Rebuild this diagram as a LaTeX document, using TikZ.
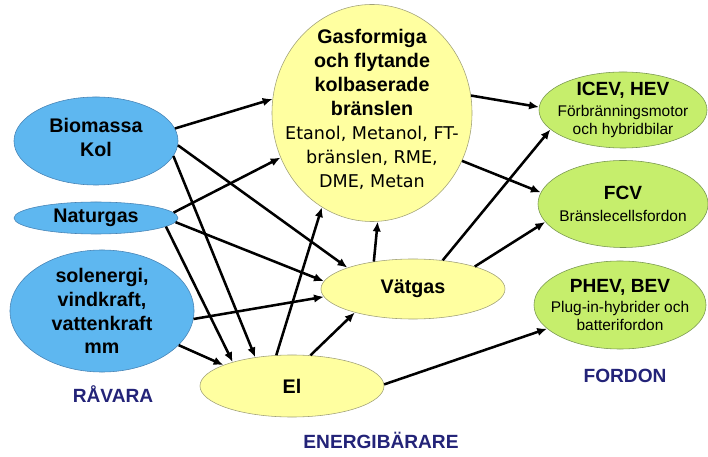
\documentclass[tikz,border=0pt]{standalone}
\usepackage{fontspec}
\setmainfont{Liberation Sans}
\newfontfamily\dejavu{DejaVu Sans}
\usepackage{tikz}
\usetikzlibrary{shapes.geometric, arrows.meta}

\definecolor{ravarablue}{RGB}{94,183,240}
\definecolor{ravaraline}{RGB}{70,130,180}
\definecolor{barargul}{RGB}{255,255,160}
\definecolor{bararline}{RGB}{160,160,120}
\definecolor{fordongron}{RGB}{198,238,108}
\definecolor{fordonline}{RGB}{120,150,80}
\definecolor{rubrikbla}{RGB}{35,35,120}

\begin{document}
\begin{tikzpicture}[x=0.025cm, y=-0.025cm,
  ravara/.style={ellipse, draw=ravaraline, fill=ravarablue, inner sep=0pt},
  barare/.style={ellipse, draw=bararline, fill=barargul, inner sep=0pt},
  fordon/.style={ellipse, draw=fordonline, fill=fordongron, inner sep=0pt},
  nodtext/.style={align=center, inner sep=0pt, font=\fontsize{14}{17}\selectfont\bfseries},
  liten/.style={align=center, inner sep=0pt, font=\fontsize{11}{12.8}\selectfont},
  rubrik/.style={font=\fontsize{13.6}{16}\selectfont\bfseries, text=rubrikbla},
  pil/.style={line width=1.8pt, -{Latex[length=7pt,width=6pt]}}]
  \useasboundingbox (0,0) rectangle (708,457);

  % råvaror
  \node[ravara, minimum width=4.1cm, minimum height=2.2cm,
    label={[nodtext, yshift=2.5pt]center:{Biomassa\\Kol}}] (bio) at (96,141) {};
  \node[ravara, minimum width=4.1cm, minimum height=0.8cm,
    label={[nodtext]center:{Naturgas}}] (ng) at (96,218) {};
  \node[ravara, minimum width=4.6cm, minimum height=3.05cm,
    label={[nodtext]center:{solenergi,\\vindkraft,\\vattenkraft\\mm}}] (sol) at (102,311) {};

  % energibärare
  \node[barare, minimum width=5cm, minimum height=5.425cm,
    label={[nodtext, yshift=2.5pt]center:{Gasformiga\\och flytande\\kolbaserade\\bränslen\\
      {\dejavu\mdseries\fontsize{12.5}{17}\selectfont Etanol, Metanol, FT-}\\
      {\dejavu\mdseries\fontsize{12.5}{17}\selectfont bränslen, RME,}\\
      {\dejavu\mdseries\fontsize{12.5}{17}\selectfont DME, Metan}}}] (gas) at (372,113) {};
  \node[barare, minimum width=4.6cm, minimum height=1.5cm,
    label={[nodtext]center:{Vätgas}}] (vat) at (413,289) {};
  \node[barare, minimum width=4.6cm, minimum height=1.55cm,
    label={[nodtext]center:{El}}] (el) at (292,386) {};

  % fordon
  \node[fordon, minimum width=4.2cm, minimum height=1.9cm,
    label={[liten]center:{{\bfseries\fontsize{13.6}{16}\selectfont ICEV, HEV}\\[2pt]
      Förbränningsmotor\\och hybridbilar}}] (ice) at (623,110) {};
  \node[fordon, minimum width=4.25cm, minimum height=2.175cm,
    label={[liten]center:{{\bfseries\fontsize{13.6}{16}\selectfont FCV}\\[2.5pt]
      Bränslecellsfordon}}] (fcv) at (623,204) {};
  \node[fordon, minimum width=4.3cm, minimum height=2.2cm,
    label={[liten]center:{{\bfseries\fontsize{13.6}{16}\selectfont PHEV, BEV}\\[2pt]
      Plug-in-hybrider och\\batterifordon}}] (phev) at (620,305) {};

  % rubriker
  \node[rubrik] (rravara) at (113,394) {RÅVARA};
  \node[rubrik] (rbarare) at (381,440) {ENERGIBÄRARE};
  \node[rubrik] (rfordon) at (625,376) {FORDON};

  % pilar från råvaror
  \draw[pil] (bio.9) -- (gas.172);
  \draw[pil] (bio.-3) -- (vat.162);
  \draw[pil] (bio.-11) -- (el.142);
  \draw[pil] (ng.4) -- (gas.206);
  \draw[pil] (ng.-3) -- (vat.175);
  \draw[pil] (ng.-7) -- (el.158);
  \draw[pil] (sol.-5) -- (vat.185);
  \draw[pil] (sol.-24) -- (el.163);

  % pilar mellan energibärare
  \draw[pil] (el.117) -- (gas.-118);
  \draw[pil] (el.59) -- (vat.202);
  \draw[pil] (vat.145) -- (gas.-87);

  % pilar till fordon
  \draw[pil] (gas.10) -- (ice.178);
  \draw[pil] (gas.-28) -- (fcv.172);
  \draw[pil] (vat.44) -- (ice.-165);
  \draw[pil] (vat.20) -- (fcv.-167);
  \draw[pil] (el.1) -- (phev.-162);
\end{tikzpicture}
\end{document}
